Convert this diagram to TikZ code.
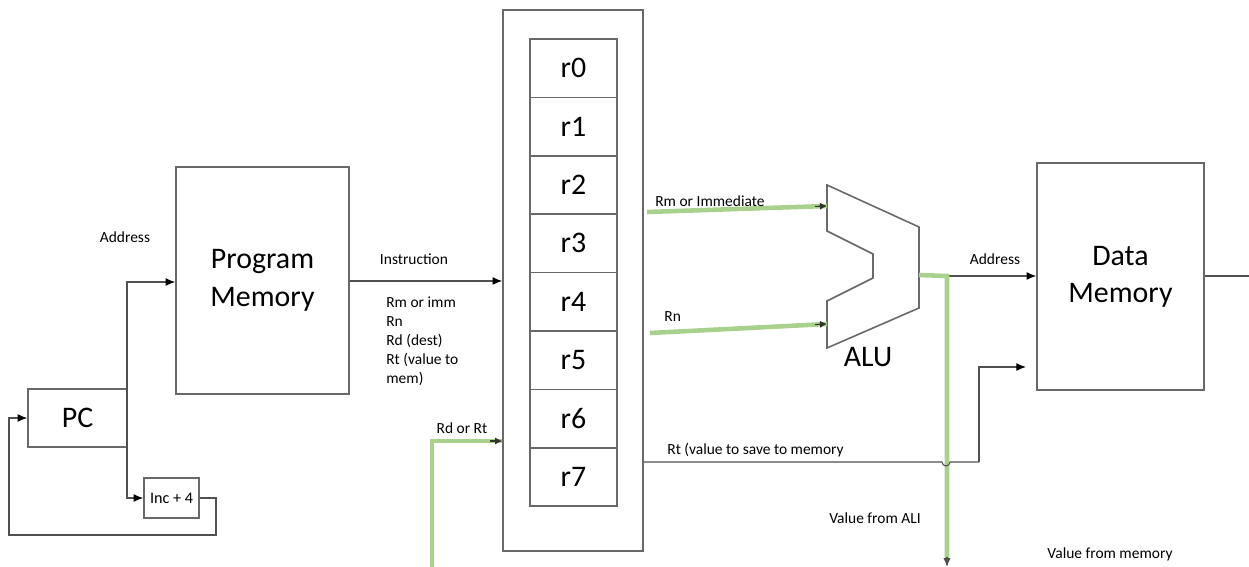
\documentclass[tikz,border=0pt]{standalone}
\usepackage{fontspec}
\setmainfont{Carlito}
\usetikzlibrary{arrows.meta}
\definecolor{wire}{RGB}{80,80,80}
\definecolor{edge}{RGB}{105,105,105}
\definecolor{bus}{RGB}{169,209,142}
\tikzset{
  blk/.style={draw=edge, line width=0.9pt, fill=white, inner sep=0pt, align=center},
  bigtxt/.style={font=\fontsize{17}{21}\selectfont},
  lbl/.style={font=\fontsize{8.8}{10.8}\selectfont, inner sep=0pt},
  wirec/.style={draw=wire, line width=0.6pt},
  arr/.style={-{Latex[length=5.5pt,width=4.5pt,color=black]}},
  greenbus/.style={draw=bus, line width=2.6pt},
  garr/.style={-{Latex[length=4pt,width=4pt,color=black!80]}}
}
\begin{document}
\begin{tikzpicture}[x=0.02cm,y=-0.02cm]
\useasboundingbox (0,0) rectangle (1249,567);

% blocks
\node[blk, bigtxt, minimum width=1.98cm, minimum height=1.16cm] (pc) at (77.5,418) {PC};
\node[blk, font=\fontsize{9.2}{11}\selectfont, minimum width=1.1cm, minimum height=0.8cm] (inc) at (171.5,498) {Inc + 4};
\node[blk, bigtxt, minimum width=3.46cm, minimum height=4.54cm] (pm) at (262.5,280.5) {Program\\[1pt]Memory};
\node[blk, minimum width=2.8cm, minimum height=10.82cm] (rf) at (573,280.5) {};
\foreach \i in {0,...,7}{
  \node[blk, bigtxt, minimum width=1.74cm, minimum height=1.168cm] (r\i) at (573.5,{68.2+58.4*\i}) {r\i};
}
\node[blk, bigtxt, minimum width=3.34cm, minimum height=4.54cm] (dm) at (1120.5,276.5) {Data\\Memory};

% ALU outline
\coordinate (alua) at (827,206);
\coordinate (alub) at (827,324);
\coordinate (aluo) at (919,275);
\draw[draw=edge, line width=0.9pt] (827,185) -- (827,231) -- (873,254) -- (873,278) -- (827,301)
  -- (827,348) -- (919,308) -- (919,227) -- cycle;
\node[bigtxt, inner sep=0pt] (alulbl) at (868,357) {ALU};

% PC loop and increment
\coordinate (split) at (127,418);
\draw[wirec] (pc.east) -- (split);
\draw[wirec, arr] (split) |- (pm.west |- 0,282);
\draw[wirec, arr] (split) |- (inc.west);
\coordinate (loopr) at (216,535);
\coordinate (loopl) at (9,535);
\draw[wirec, arr] (inc.east) -| (loopr) -- (loopl) |- (pc.west);

% instruction bus
\draw[wirec, arr] (pm.east |- 0,281) -- (rf.west |- 0,281);

% register write port
\coordinate (wbot) at (432,567);
\draw[greenbus] (wbot) |- (rf.west |- 0,441);
\draw[garr, draw=black!80, line width=0.6pt] (490,441) -- (rf.west |- 0,441);

% ALU operands
\coordinate (srcm) at (647,212);
\coordinate (srcn) at (650,333);
\draw[greenbus] (srcm) -- (alua);
\draw[garr, draw=black!80, line width=0.6pt] (815,206.4) -- (alua);
\draw[greenbus] (srcn) -- (alub);
\draw[garr, draw=black!80, line width=0.6pt] (815,324.6) -- (alub);

% ALU result
\coordinate (aluturn) at (947,276);
\coordinate (resbot) at (947,567);
\draw[wirec, arr] (aluturn) -- (dm.west |- aluturn);
\draw[greenbus] (aluo) -- (aluturn) -- (947,559);
\draw[-{Latex[length=5pt,width=4pt]}, draw=wire, line width=0.6pt] (947,557) -- (resbot);

% store value path with a small hop over the result bus
\coordinate (rtturn) at (979,462);
\draw[wirec] (rf.east |- 0,462) -- (942,462) arc[start angle=180, end angle=0, radius=4] -- (rtturn);
\draw[wirec, arr] (rtturn) |- (1026,367);

% data memory output
\draw[wirec] (dm.east |- 0,276) -- (1249,276);

% labels
\node[lbl] (laddr) at (125,237) {Address};
\node[lbl] (linst) at (414,259) {Instruction};
\node[lbl, anchor=north west, align=left] (lfields) at (386,297) {Rm or imm\\Rn\\Rd (dest)\\Rt (value to\\mem)};
\node[lbl] (lrd) at (462,428) {Rd or Rt};
\node[lbl, anchor=west] (lrm) at (655,201) {Rm or Immediate};
\node[lbl, anchor=west] (lrn) at (664,317) {Rn};
\node[lbl] (ldaddr) at (995,259) {Address};
\node[lbl, anchor=west] (lrt) at (667,450) {Rt (value to save to memory};
\node[lbl] (lalu) at (875,518) {Value from ALI};
\node[lbl] (lmem) at (1110,554) {Value from memory};
\end{tikzpicture}
\end{document}
